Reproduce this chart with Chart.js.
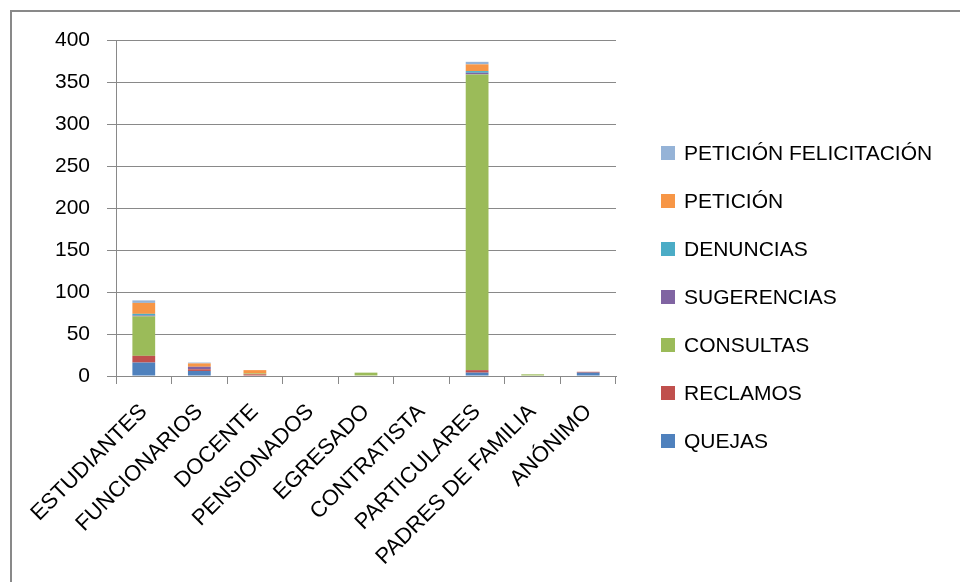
<!DOCTYPE html>
<html>
<head>
<meta charset="utf-8">
<script src="https://cdn.jsdelivr.net/npm/chart.js@4/dist/chart.umd.min.js"></script>
<style>
  html, body { margin: 0; padding: 0; background: #fff; }
  #wrap { position: relative; width: 960px; height: 582px; overflow: hidden; }
  #frame { position: absolute; left: 10px; top: 10px; width: 1000px; height: 700px;
           border-left: 2px solid #898989; border-top: 2px solid #898989; }
  #chart { position: absolute; left: 0; top: 0; }
</style>
</head>
<body>
<div id="wrap">
  <div id="frame"></div>
  <canvas id="chart" width="960" height="582"></canvas>
</div>
<script>
const categories = ['ESTUDIANTES', 'FUNCIONARIOS', 'DOCENTE', 'PENSIONADOS', 'EGRESADO',
  'CONTRATISTA', 'PARTICULARES', 'PADRES DE FAMILIA', 'ANÓNIMO'];
const quejas       = [16, 6, 0, 0, 0, 0, 4, 0, 4];
const reclamos     = [8, 2, 2, 0, 0, 0, 3, 0, 1];
const consultas    = [47, 0, 1, 0, 4, 0, 352, 2, 0];
const sugerencias  = [1, 3, 0, 0, 0, 0, 2, 0, 0];
const denuncias    = [2, 0, 0, 0, 0, 0, 2, 0, 0];
const peticion     = [13, 4, 4, 0, 0, 0, 8, 0, 0];
const felicitacion = [3, 1, 0, 0, 0, 0, 3, 0, 0];
const yTicks = [0, 50, 100, 150, 200, 250, 300, 350, 400];

const FONT = "'Liberation Sans', Arial, sans-serif";

function series(label, data, color) {
  return { label, data, backgroundColor: color, borderWidth: 0,
    barPercentage: 0.41, categoryPercentage: 1 };
}

// legend drawn at right, last series on top like the spreadsheet
const sideLegend = {
  id: 'sideLegend',
  afterDraw(chart) {
    const ctx = chart.ctx;
    const sets = chart.data.datasets.slice().reverse();
    ctx.save();
    ctx.font = '21px ' + FONT;
    ctx.textBaseline = 'middle';
    ctx.textAlign = 'left';
    sets.forEach((ds, i) => {
      const y = 153 + i * 48;
      ctx.fillStyle = ds.backgroundColor;
      ctx.fillRect(661, y - 7, 14, 14);
      ctx.fillStyle = '#000';
      ctx.fillText(ds.label, 684, y + 1);
    });
    ctx.restore();
  }
};

new Chart(document.getElementById('chart'), {
  type: 'bar',
  data: {
    labels: categories,
    datasets: [
      series('QUEJAS', quejas, '#4F81BD'),
      series('RECLAMOS', reclamos, '#C0504D'),
      series('CONSULTAS', consultas, '#9BBB59'),
      series('SUGERENCIAS', sugerencias, '#8064A2'),
      series('DENUNCIAS', denuncias, '#4BACC6'),
      series('PETICIÓN', peticion, '#F79646'),
      series('PETICIÓN FELICITACIÓN', felicitacion, '#95B3D7')
    ]
  },
  options: {
    responsive: false,
    animation: false,
    layout: { padding: { left: 0, top: 40, right: 344, bottom: 0 } },
    plugins: { legend: { display: false }, tooltip: { enabled: false } },
    scales: {
      x: {
        stacked: true,
        grid: { offset: true, drawOnChartArea: false, drawTicks: true, tickLength: 8, color: '#898989' },
        border: { color: '#898989', width: 1 },
        ticks: { color: '#000', font: { family: FONT, size: 22 }, minRotation: 45, maxRotation: 45, padding: 15, autoSkip: false },
        afterFit: s => { s.height = 206; }
      },
      y: {
        stacked: true,
        min: 0,
        max: 400,
        afterBuildTicks: s => { s.ticks = yTicks.map(v => ({ value: v })); },
        grid: { color: '#898989', tickLength: 9 },
        border: { color: '#898989', width: 1 },
        ticks: { color: '#000', font: { family: FONT, size: 21 }, padding: 17 },
        afterFit: s => { s.width = 116; }
      }
    }
  },
  plugins: [sideLegend]
});
</script>
</body>
</html>
